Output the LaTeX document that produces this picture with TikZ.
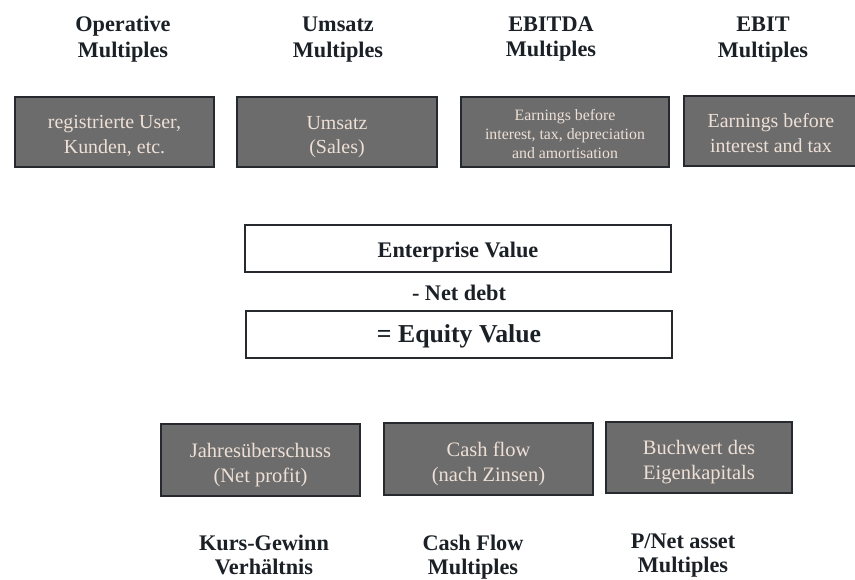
\documentclass[tikz,border=0pt]{standalone}
\usepackage{fontspec}
\setmainfont{Liberation Serif}
\usetikzlibrary{positioning}
\definecolor{boxgray}{RGB}{108,108,108}
\definecolor{boxline}{RGB}{38,42,46}
\definecolor{boxtext}{RGB}{238,224,214}
\definecolor{headtext}{RGB}{26,32,38}
\tikzset{
  every picture/.style={line width=0.7pt},
  mbox/.style={rectangle, draw=boxline, line width=1.6pt, fill=boxgray,
               inner sep=0pt, minimum height=2.1cm},
  mtext/.style={align=center, text=boxtext, inner sep=0pt,
                font=\fontsize{17}{21}\selectfont},
  vbox/.style={rectangle, draw=boxline, line width=1.4pt, fill=white,
               inner sep=0pt, minimum width=12.78cm, minimum height=1.41cm},
  vtext/.style={text=headtext, inner sep=0pt},
  mhead/.style={align=center, text=headtext, inner sep=0pt, anchor=north,
                font=\bfseries\fontsize{19}{22}\selectfont},
  mfoot/.style={mhead, font=\bfseries\fontsize{19}{20.5}\selectfont},
}

\begin{document}
\begin{tikzpicture}[x=0.03cm, y=-0.03cm]
  \useasboundingbox (0,0) rectangle (855,579);

  % multiples on the enterprise value
  \node[mhead] (hop)  at (123,16) {Operative\\Multiples};
  \node[mhead] (hum)  at (338,17) {Umsatz\\Multiples};
  \node[mhead] (hebd) at (551,16) {EBITDA\\Multiples};
  \node[mhead] (hebt) at (763,17) {EBIT\\Multiples};

  \node[mbox, minimum width=5.97cm] (op)  at (114.5,132) {};
  \node[mbox, minimum width=6.0cm]  (um)  at (337,132) {};
  \node[mbox, minimum width=6.24cm] (ebd) at (565,132) {};
  \node[mbox, minimum width=5.22cm] (ebt) at (771,131) {};
  \node[mtext] (opt)  at (114.5,136) {registrierte User,\\Kunden, etc.};
  \node[mtext] (umt)  at (337,137) {Umsatz\\(Sales)};
  \node[mtext, font=\fontsize{13.5}{16}\selectfont] (ebdt) at (565,134)
        {Earnings before\\interest, tax, depreciation\\and amortisation};
  \node[mtext] (ebtt) at (771,133) {Earnings before\\interest and tax};

  % bridge
  \node[vbox] (ev) at (458,248.5) {};
  \node[vbox] (eq) at (459,334.5) {};
  \node[vtext, font=\bfseries\fontsize{19}{22}\selectfont] (evt) at (458,252)
        {Enterprise Value};
  \node[mhead, anchor=center] (nd) at (459,293) {- Net debt};
  \node[vtext, font=\bfseries\fontsize{22}{24}\selectfont] (eqt) at (459,336)
        {= Equity Value};

  % multiples on the equity value
  \node[mbox, minimum width=5.97cm, minimum height=2.16cm] (np) at (260.5,460) {};
  \node[mbox, minimum width=6.27cm, minimum height=2.16cm] (cf) at (488.5,459) {};
  \node[mbox, minimum width=5.58cm, minimum height=2.13cm] (bw) at (699,457.5) {};
  \node[mtext, font=\fontsize{17.5}{21}\selectfont] (npt) at (260.5,465)
        {Jahresüberschuss\\(Net profit)};
  \node[mtext, font=\fontsize{17.5}{21}\selectfont] (cft) at (488.5,464)
        {Cash flow\\(nach Zinsen)};
  \node[mtext, font=\fontsize{17.5}{21}\selectfont] (bwt) at (699,462)
        {Buchwert des\\Eigenkapitals};

  \node[mfoot] (kgv)  at (264,535) {Kurs-Gewinn\\Verhältnis};
  \node[mfoot] (cfm)  at (473,535) {Cash Flow\\Multiples};
  \node[mfoot] (pnam) at (683,533) {P/Net asset\\Multiples};
\end{tikzpicture}
\end{document}
